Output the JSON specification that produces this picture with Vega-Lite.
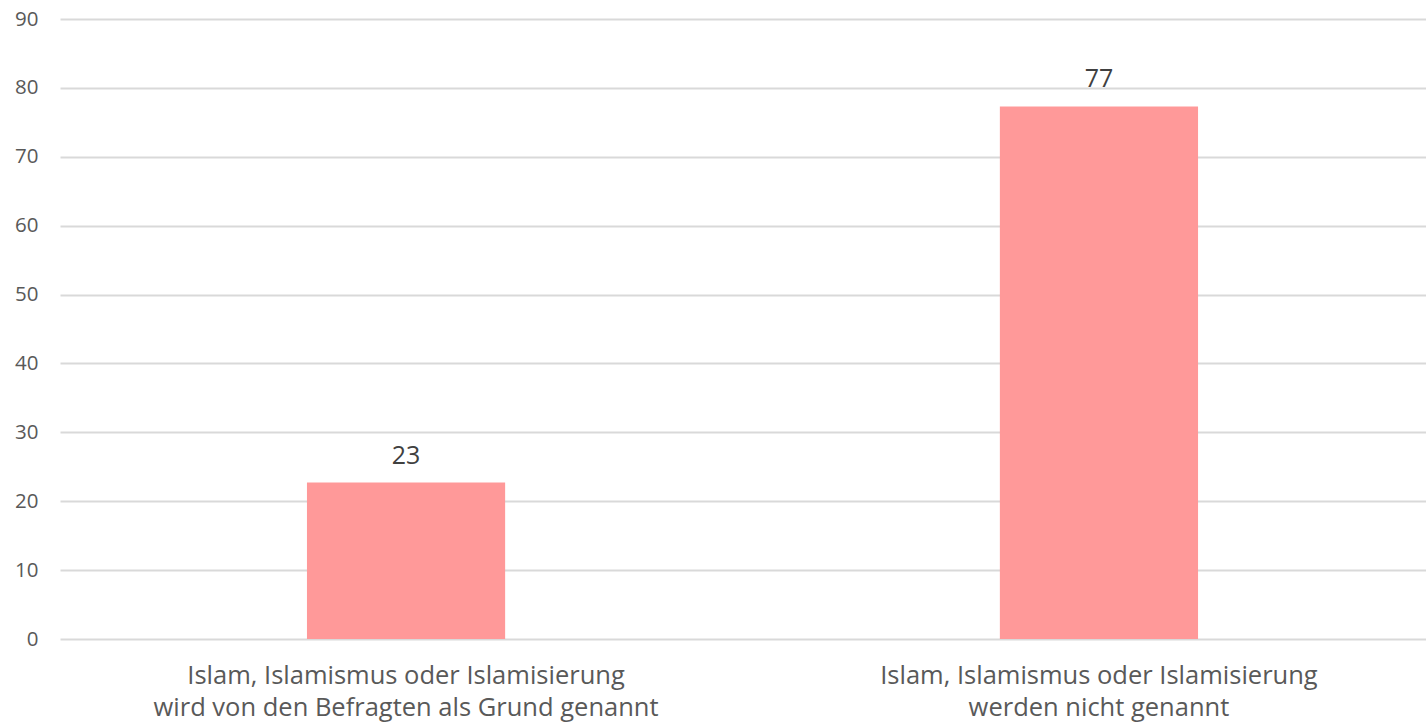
{
  "$schema": "https://vega.github.io/schema/vega-lite/v6.json",
  "autosize": {"type": "none"},
  "padding": {"left": 60, "top": 19, "right": 0, "bottom": 88},
  "width": 1366,
  "height": 620,
  "background": "white",
  "config": {"view": {"stroke": null}, "font": "Open Sans"},
  "data": {"values": [
    {"kategorie": "Islam, Islamismus oder Islamisierung|wird von den Befragten als Grund genannt", "wert": 22.7},
    {"kategorie": "Islam, Islamismus oder Islamisierung|werden nicht genannt", "wert": 77.3}
  ]},
  "encoding": {
    "x": {"field": "kategorie", "type": "nominal", "sort": null,
      "scale": {"paddingInner": 0.714, "paddingOuter": 0.3427, "align": 0.52},
      "axis": {"title": null, "labelAngle": 0, "labelExpr": "split(datum.label, '|')", "ticks": false, "domain": false, "labelPadding": 24, "labelFontSize": 25.5, "labelColor": "#595959", "labelLineHeight": 32, "labelFont": "Open Sans", "labelLimit": 700}},
    "y": {"field": "wert", "type": "quantitative",
      "scale": {"domain": [0, 90], "nice": false},
      "axis": {"title": null, "values": [0,10,20,30,40,50,60,70,80,90], "ticks": false, "domain": false, "labelPadding": 22, "labelFontSize": 20.5, "labelColor": "#595959", "gridColor": "#D9D9D9", "gridWidth": 2, "labelFont": "Open Sans"}}
  },
  "layer": [
    {"mark": {"type": "bar", "color": "#FF9999"}},
    {"mark": {"type": "text", "baseline": "alphabetic", "dy": -19, "fontSize": 25, "color": "#404040", "font": "Open Sans"},
     "encoding": {"text": {"field": "wert", "type": "quantitative", "format": ".0f"}}}
  ]
}
